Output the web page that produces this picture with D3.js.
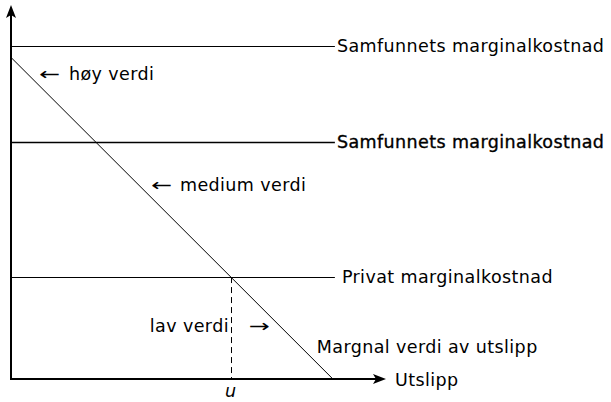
<!DOCTYPE html>
<html>
<head>
<meta charset="utf-8">
<script src="https://cdn.jsdelivr.net/npm/d3@7"></script>
<style>
  html, body { margin: 0; padding: 0; background: #fff; }
  svg { display: block; }
  text { font-family: "DejaVu Sans", sans-serif; font-size: 17.5px; fill: #000; letter-spacing: 0.4px; }
</style>
</head>
<body>
<svg id="chart" width="611" height="402"></svg>
<script>
// ---- data ----
const costLabels = ["Samfunnets marginalkostnad", "Samfunnets marginalkostnad", "Privat marginalkostnad"];
const costValues = [10.35, 7.37, 3.17];
const costBold = [false, true, false];
const mvX = [0, 10];          // marginal value line: x at start / end
const mvY = [10, 0];          // marginal value line: y at start / end
const mvLabel = "Margnal verdi av utslipp";
const xAxisLabel = "Utslipp";
const uLabel = "u";
const noteTexts = ["høy verdi", "medium verdi", "lav verdi"];
const noteArrows = ["←", "←", "→"];
const noteArrowX = [0.87, 4.35, 7.39];
const noteX = [1.8, 5.25, 6.77];
const noteY = [9.3, 5.85, 1.46];
const xMax = 11.65, yMax = 11.63, lineEnd = 10;

// ---- scales ----
const svg = d3.select("#chart");
const x = d3.scaleLinear().domain([0, xMax]).range([11, 386]);
const y = d3.scaleLinear().domain([0, yMax]).range([379, 5]);

// private cost intersection with the marginal value line
const slope = (mvY[1] - mvY[0]) / (mvX[1] - mvX[0]);
const uVal = mvX[0] + (costValues[2] - mvY[0]) / slope;

// horizontal cost lines
costValues.forEach((v, i) => {
  svg.append("line")
    .attr("x1", x(0)).attr("x2", x(lineEnd) + 2)
    .attr("y1", Math.round(y(v)) + 0.5).attr("y2", Math.round(y(v)) + 0.5)
    .attr("stroke", "#000")
    .attr("stroke-width", costBold[i] ? 1.4 : 1);
  svg.append("text")
    .attr("x", x(lineEnd) + (i === 2 ? 9 : 4))
    .attr("y", y(v) + 6)
    .attr("stroke", costBold[i] ? "#000" : "none")
    .attr("stroke-width", costBold[i] ? 0.35 : 0)
    .text(costLabels[i]);
});

// marginal value line
svg.append("line")
  .attr("x1", x(mvX[0])).attr("y1", y(mvY[0]))
  .attr("x2", x(mvX[1])).attr("y2", y(mvY[1]))
  .attr("stroke", "#000").attr("stroke-width", 1);

// dashed u line
svg.append("line")
  .attr("x1", Math.round(x(uVal)) + 0.5).attr("x2", Math.round(x(uVal)) + 0.5)
  .attr("y1", y(costValues[2])).attr("y2", y(0))
  .attr("stroke", "#000").attr("stroke-width", 1)
  .attr("stroke-dasharray", "6,4");

// axes
svg.append("line")
  .attr("x1", x(0)).attr("y1", y(0)).attr("x2", x(xMax) - 8).attr("y2", y(0))
  .attr("stroke", "#000").attr("stroke-width", 2);
svg.append("line")
  .attr("x1", x(0)).attr("y1", y(0) + 1).attr("x2", x(0)).attr("y2", y(yMax) + 8)
  .attr("stroke", "#000").attr("stroke-width", 2);

// arrow heads (stealth style)
const tx = x(xMax), ty = y(0);
svg.append("path")
  .attr("d", `M${tx},${ty} L${tx - 13},${ty - 5} L${tx - 10},${ty} L${tx - 13},${ty + 5} Z`)
  .attr("fill", "#000");
const ax = x(0), ay = y(yMax);
svg.append("path")
  .attr("d", `M${ax},${ay} L${ax - 5},${ay + 13} L${ax},${ay + 10} L${ax + 5},${ay + 13} Z`)
  .attr("fill", "#000");

// axis labels
svg.append("text").attr("x", x(xMax) + 9).attr("y", y(0) + 7).text(xAxisLabel);
svg.append("text").attr("x", x(uVal)).attr("y", y(0) + 18)
  .attr("text-anchor", "middle").attr("font-style", "italic").text(uLabel);

// marginal value label
svg.append("text").attr("x", x(9.5)).attr("y", y(0.81)).text(mvLabel);

// notes
noteTexts.forEach((t, i) => {
  svg.append("text")
    .attr("x", x(noteX[i]))
    .attr("y", y(noteY[i]))
    .attr("text-anchor", i === 2 ? "end" : "start")
    .text(t);
  svg.append("text")
    .attr("x", x(noteArrowX[i]))
    .attr("y", y(noteY[i]))
    .attr("textLength", 21)
    .attr("lengthAdjust", "spacingAndGlyphs")
    .style("letter-spacing", "0px")
    .text(noteArrows[i]);
});
</script>
</body>
</html>
